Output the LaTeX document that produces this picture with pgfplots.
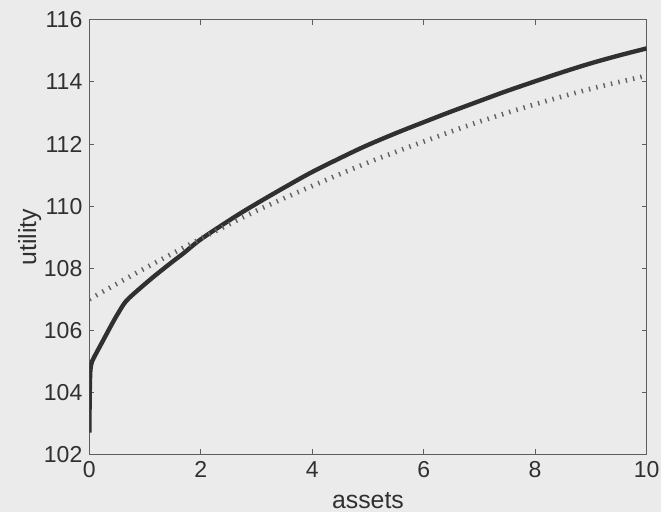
\documentclass[border=0pt]{standalone}
\usepackage{pgfplots}
\pgfplotsset{compat=1.18}
\usepackage{fontspec}
\setmainfont{Liberation Sans}

\definecolor{paper}{HTML}{EBEBEB}
\definecolor{frame}{HTML}{5E5E5E}
\definecolor{ink}{HTML}{303030}
\definecolor{dotink}{HTML}{626262}

\begin{document}
\begin{tikzpicture}
  % page background
  \fill[paper] (0pt,0pt) rectangle (333pt,258pt);
  \begin{axis}[
    at={(45pt,29.25pt)}, anchor=south west,
    scale only axis, width=280.5pt, height=218.75pt,
    xmin=0, xmax=10, ymin=102, ymax=116,
    xtick={0,2,...,10}, ytick={102,104,...,116},
    tick align=inside, major tick length=2.5pt,
    axis line style={frame, line width=0.6pt},
    tick style={frame, line width=0.5pt},
    ticklabel style={font=\fontsize{11.6}{13}\selectfont, text=ink},
    /pgf/number format/assume math mode=true,
    xlabel={assets}, ylabel={utility},
    label style={font=\fontsize{12.5}{14}\selectfont, text=ink},
    xlabel style={at={(axis description cs:0.5,-0.1234)}, anchor=base},
    ylabel style={at={(axis description cs:-0.107,0.5)}, anchor=center},
    clip=true,
  ]
    % value function under the optimal policy
    \addplot[ink, line width=2.2pt, smooth, tension=0.55] coordinates {
      (0,102.7) (0.004,103.6) (0.01,104.3) (0.02,104.75) (0.05,105.0)
      (0.12,105.25) (0.24,105.65) (0.42,106.25) (0.55,106.65) (0.65,106.92)
      (0.8,107.18) (1.15,107.72) (1.5,108.22) (1.69,108.48) (2.0,108.93)
      (2.58,109.62) (3.0,110.08) (3.5,110.6) (4.0,111.1) (4.63,111.66)
      (5.0,111.97) (5.53,112.37) (6.11,112.78) (6.5,113.05) (7.1,113.45)
      (7.48,113.7) (8.0,114.02) (8.5,114.32) (9.0,114.6) (9.5,114.85)
      (10.0,115.08)
    };
    % approximation
    \addplot[dotink, line width=2.4pt, dash pattern=on 0.7pt off 3.1pt, smooth] coordinates {
      (0,107.0) (1,108.0) (2,108.95) (3,109.85) (4,110.65) (5,111.4)
      (6,112.08) (7,112.72) (8,113.28) (9,113.78) (10,114.2)
    };
  \end{axis}
\end{tikzpicture}
\end{document}
